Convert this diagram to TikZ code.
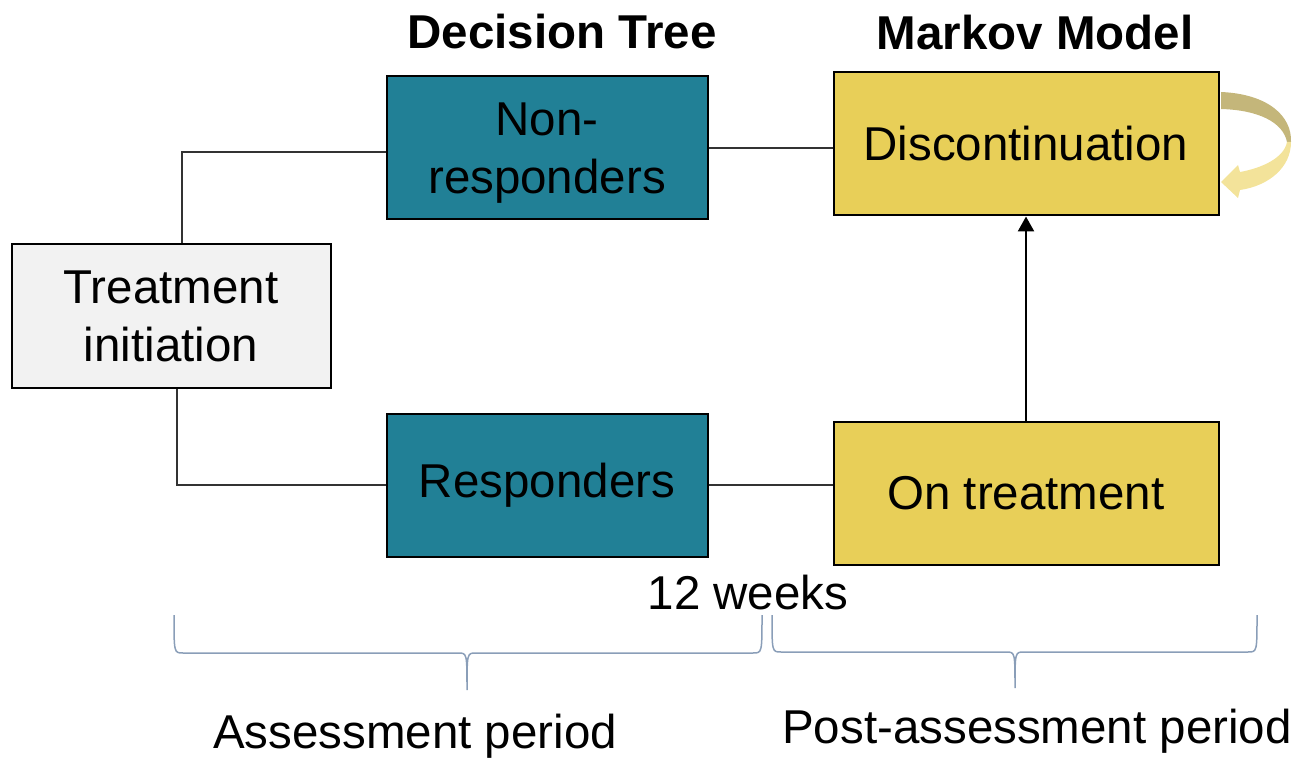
\documentclass[tikz,border=0pt]{standalone}
\usepackage{fontspec}
\setmainfont{Liberation Sans}
\usepackage{tikz}
\usetikzlibrary{shapes.geometric, arrows, arrows.meta}
\usetikzlibrary{positioning}
\definecolor{initgray}{RGB}{242,242,242}
\definecolor{treeteal}{RGB}{33,128,150}
\definecolor{markovyellow}{RGB}{232,207,88}
\definecolor{loopdark}{RGB}{196,182,122}
\definecolor{looplight}{RGB}{243,227,154}
\definecolor{bracegray}{RGB}{138,158,184}
\tikzstyle{startbox} = [rectangle, minimum width=319pt, minimum height=144pt, text centered, align=center, draw=black, line width=2pt, fill=initgray]
\tikzstyle{treebox} = [rectangle, minimum width=321pt, minimum height=143pt, text centered, align=center, draw=black, line width=2pt, fill=treeteal]
\tikzstyle{markovbox} = [rectangle, minimum width=385pt, minimum height=143pt, text centered, align=center, draw=black, line width=2pt, fill=markovyellow]
\tikzstyle{arrow} = [line width=2.5pt,-{Triangle[length=15pt,width=16pt]}]
\tikzstyle{link} = [line width=1.2pt, draw=black!80, -]
\tikzstyle{period} = [line width=1.5pt, draw=bracegray]

\begin{document}
\begin{tikzpicture}[x=1pt, y=-1pt, font=\fontsize{47.5}{58}\selectfont]
\useasboundingbox (0,0) rectangle (1299,759);
\node (dttitle) at (562,32) {\bfseries Decision Tree};
\node (mmtitle) at (1035,33) {\bfseries Markov Model};
\node (init) [startbox] at (171,316) {Treatment\\initiation};
\node (nonresp) [treebox, text depth=0pt] at (547,148) {Non-\\responders};
\node (resp) [treebox, below=192pt of nonresp] {Responders};
\node (discont) [markovbox] at (1026,144) {Discontinuation};
\node (ontreat) [markovbox, below=204pt of discont] {On treatment};
\draw [link] ([xshift=11pt]init.north) |- ([yshift=-4pt]nonresp.west);
\draw [link] ([xshift=6pt]init.south) |- (resp.west);
\draw [link] (nonresp.east) -- (nonresp.east -| discont.west);
\draw [link] (resp.east) -- (resp.east -| ontreat.west);
\draw [arrow] (ontreat) -- (discont);
% self loop
\fill [loopdark] (1221,92) .. controls (1268,94) and (1292,116) .. (1291,142)
  -- (1287,142) .. controls (1283,122) and (1258,110) .. (1221,109) -- cycle;
\fill [looplight] (1291,142) .. controls (1291,168) and (1268,186) .. (1240,190)
  -- (1238,198) -- (1221,182) -- (1238,165) -- (1240,172)
  .. controls (1262,168) and (1284,158) .. (1287,142) -- cycle;
% periods
\draw [period] (174,615) .. controls (174,653) .. (183,653) -- (458,653)
  .. controls (467,653) .. (467,690) .. controls (467,653) .. (476,653)
  -- (753,653) .. controls (762,653) .. (762,615);
\draw [period] (772,615) .. controls (772,652) .. (781,652) -- (1006,652)
  .. controls (1015,652) .. (1015,688) .. controls (1015,652) .. (1024,652)
  -- (1248,652) .. controls (1257,652) .. (1257,615);
\node (weeks) at (748,593) {12 weeks};
\node (assess) at (415,736) {Assessment period};
\node (post) at (1037,731) {Post-assessment period};
\end{tikzpicture}
\end{document}
